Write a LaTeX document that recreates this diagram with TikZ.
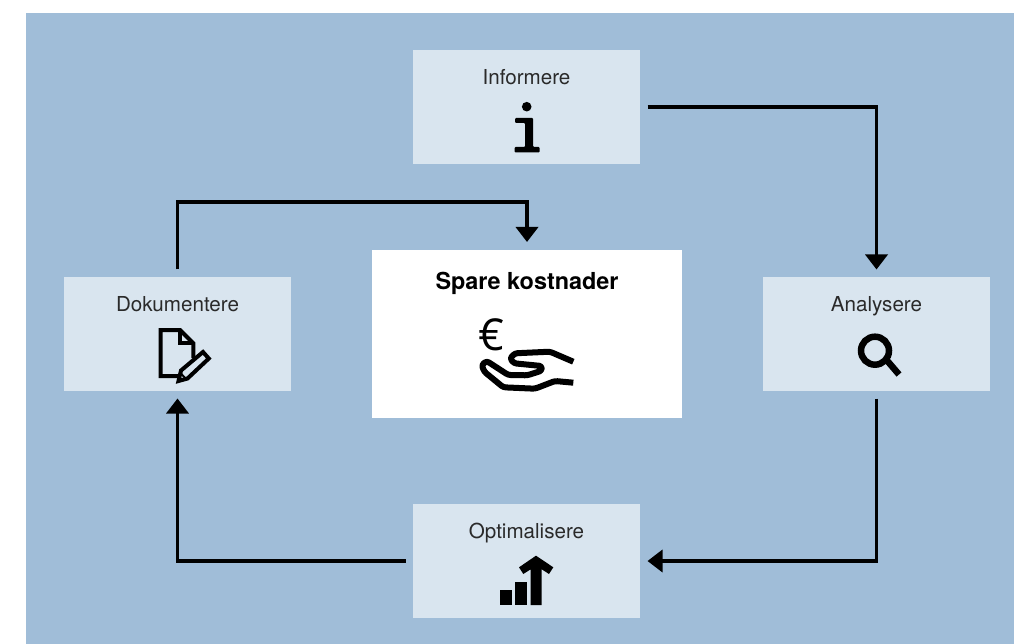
\documentclass[tikz,border=0pt]{standalone}
\usepackage{fontspec}
\setmainfont{TeX Gyre Heros}
\newfontfamily\eurofont{Open Sans}
\usetikzlibrary{arrows.meta,positioning}
\definecolor{panelblue}{HTML}{A0BDD8}
\definecolor{boxblue}{HTML}{D9E5EF}
\definecolor{labelgrey}{HTML}{2A2A2A}
\tikzset{>={Triangle[length=15pt,width=22pt]},
         flow/.style={->,line width=3.6pt,black},
         stepbox/.style={fill=boxblue,minimum width=227pt,minimum height=114pt,
           inner sep=0pt,outer sep=7.5pt},
         steplabel/.style={inner sep=0pt,outer sep=0pt,text height=15pt,text depth=4pt,
           font=\fontsize{20.6}{22}\selectfont,text=labelgrey},
         iconline/.style={line width=4pt,line join=miter,black},
         iconfill/.style={fill=black,line join=round}}

\begin{document}
\begin{tikzpicture}[x=1pt,y=-1pt]
  \useasboundingbox (0,0) rectangle (1014,644);
  \fill[panelblue] (25.5,13) rectangle (1014,644);
  % boxes
  \node[stepbox] (inf) at (526.5,107) {};
  \node[stepbox] (ana) at (876.5,334) {};
  \node[stepbox] (opt) at (526.5,561) {};
  \node[stepbox] (dok) at (177.5,334) {};
  \node[fill=white,minimum width=310pt,minimum height=168pt,inner sep=0pt,outer sep=8pt]
    (spare) at (527,334) {};
  \coordinate (bend) at (527,202);
  % labels
  \node[steplabel,below=27.2pt of inf.north] (inflabel) {Informere};
  \node[steplabel,below=27.2pt of ana.north] (analabel) {Analysere};
  \node[steplabel,below=27.2pt of opt.north] (optlabel) {Optimalisere};
  \node[steplabel,below=27.2pt of dok.north] (doklabel) {Dokumentere};
  \node[steplabel,below=32pt of spare.north,font=\fontsize{23.4}{26}\selectfont\bfseries,text=black]
    (sparelabel) {Spare kostnader};
  % arrows
  \draw[flow] (inf.east) -| (ana.north);
  \draw[flow] (ana.south) |- (opt.east);
  \draw[flow] (opt.west) -| (dok.south);
  \draw[flow] (dok.north) |- (bend) -- (spare.north);
  % info
  \fill (526.7,106.7) circle (4.8pt);
  \fill[iconfill,rounded corners=1pt] (515,118) -- (533,118) -- (533,147) -- (539.5,147) -- (539.5,152.5)
    -- (514.5,152.5) -- (514.5,147) -- (525,147) -- (525,123) -- (515,123) -- cycle;
  % magnifier
  \draw[line width=6.5pt] (875,350.7) circle (14pt);
  \draw[line width=6.5pt] (887,360.5) -- (899,374.5);
  % chart
  \fill (500,590) rectangle (511.7,605);
  \fill (515,581.7) rectangle (526.7,605);
  \fill[iconfill] (530.7,605) -- (530.7,569.3) -- (523.3,574) -- (519,567.3) -- (536,555.7) -- (553.3,567.3)
    -- (549,574) -- (541.7,569.3) -- (541.7,605) -- cycle;
  % document
  \draw[iconline] (193.3,358) -- (193.3,343.3) -- (180,330) -- (160.7,330) -- (160.7,376) -- (178,376);
  \draw[iconline] (179.5,330) -- (179.5,343.3) -- (193.3,343.3);
  \draw[iconline] (178.5,381) -- (181,370.5) -- (203,352) -- (208.8,358.5) -- (187.5,378.5) -- cycle;
  \draw[line width=2pt] (180.5,373) -- (186,379);
  % hand
  \draw[line width=6pt,line join=round,rounded corners=2.5pt] (573.3,361.7) -- (550,351.7) -- (515,353.3) -- (510,358.3) -- (514,363.3)
    -- (541.7,366) -- (541.7,370.7) -- (527.3,375.3) -- (508.3,375) -- (486.7,361) -- (481.7,365)
    -- (484.3,371.7) -- (503.3,387.3) -- (535,388.7) -- (555,381) -- (573.3,382.7);
  \node[inner sep=0pt,font=\eurofont\fontsize{44}{46}\selectfont] (euro) at (491.5,335) {€};
\end{tikzpicture}
\end{document}
